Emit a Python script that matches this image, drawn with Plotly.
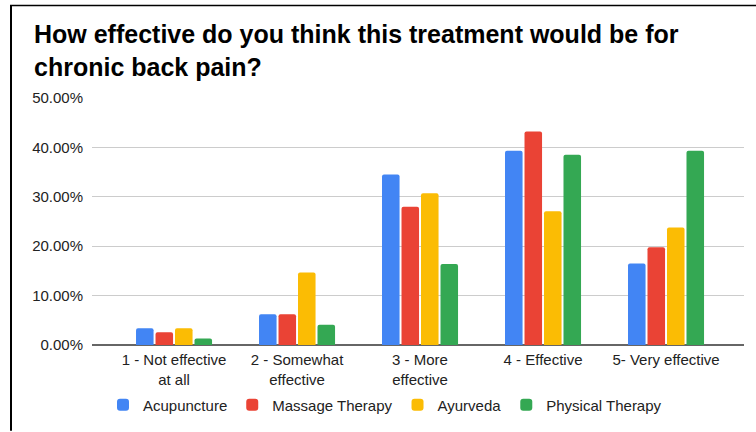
import plotly.graph_objects as go

categories = ["1 - Not effective<br>at all", "2 - Somewhat<br>effective", "3 - More<br>effective",
              "4 - Effective", "5- Very effective"]
acupuncture = [0.034, 0.062, 0.345, 0.393, 0.165]
massage = [0.026, 0.062, 0.280, 0.432, 0.198]
ayurveda = [0.034, 0.147, 0.307, 0.271, 0.238]
physical = [0.013, 0.041, 0.164, 0.385, 0.393]
series_names = ["Acupuncture", "Massage Therapy", "Ayurveda", "Physical Therapy"]
colors = ["#4285F4", "#EA4335", "#FBBC04", "#34A853"]
y_ticks = [0, 0.1, 0.2, 0.3, 0.4, 0.5]
title_text = "How effective do you think this treatment would be for<br>chronic back pain?"

W, H = 756, 432
L, R, T, B = 92, 12, 98, 86
pw, ph = W - L - R, H - T - B

def px_x(p):
    return (p - L) / pw

def px_y(p):
    return (H - B - p) / ph

FONT = "Liberation Sans, Arial, Helvetica, sans-serif"

fig = go.Figure()
for name, vals, col in zip(series_names, [acupuncture, massage, ayurveda, physical], colors):
    fig.add_trace(go.Bar(x=categories, y=vals, name=name, marker=dict(color=col, line=dict(width=0))))

fig.update_layout(
    width=W, height=H,
    margin=dict(l=L, r=R, t=T, b=B),
    paper_bgcolor="white", plot_bgcolor="white",
    barmode="group", bargap=0.366, bargroupgap=0.1, barcornerradius=2,
    font=dict(family=FONT, size=15, color="#222222"),
    showlegend=True,
    legend=dict(orientation="h", x=px_x(103), xanchor="left", y=px_y(405), yanchor="middle",
                font=dict(size=15, color="#222222"), bgcolor="rgba(0,0,0,0)", traceorder="normal"),
    xaxis=dict(range=[-0.667, 4.634], showgrid=False, ticks="", showline=False, zeroline=False,
               tickfont=dict(size=15, color="#222222"), ticklabelstandoff=4),
    yaxis=dict(range=[0, 0.5], tickvals=y_ticks, tickformat=".2%", showgrid=True, gridcolor="#cccccc",
               gridwidth=1, zeroline=True, zerolinecolor="#666666", zerolinewidth=1.5, ticks="",
               tickfont=dict(size=15, color="#222222"), ticklabelstandoff=8, showline=False),
)

fs_title = 25
fig.add_annotation(text="<b>" + title_text + "</b>", xref="paper", yref="paper",
                   x=px_x(32), y=px_y(50), xanchor="left", yanchor="middle", align="left",
                   showarrow=False, font=dict(size=fs_title, color="#000000", family=FONT))

# frame lines (left and top)
fig.add_shape(type="line", xref="paper", yref="paper", x0=px_x(11), x1=px_x(11), y0=px_y(5), y1=px_y(432),
              line=dict(color="#000000", width=2))
fig.add_shape(type="line", xref="paper", yref="paper", x0=px_x(10), x1=px_x(756), y0=px_y(5), y1=px_y(5),
              line=dict(color="#000000", width=1.5))

fig.write_html("out.html")
